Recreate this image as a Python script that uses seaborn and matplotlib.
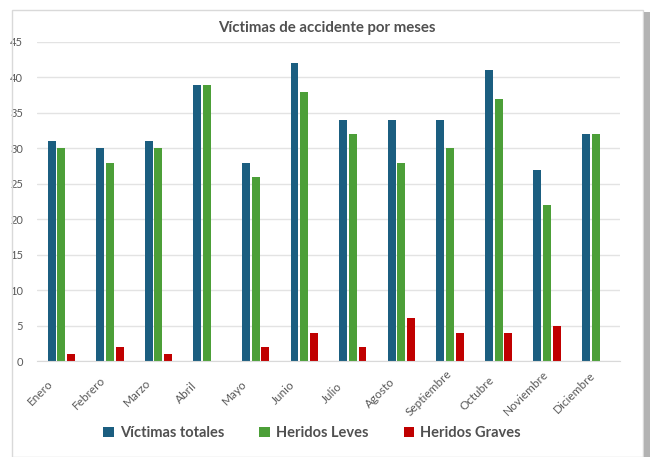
import pandas as pd
import matplotlib
matplotlib.use("Agg")
import matplotlib.pyplot as plt
import matplotlib.transforms as mtransforms
import seaborn as sns
from matplotlib.patches import Rectangle

meses = ["Enero", "Febrero", "Marzo", "Abril", "Mayo", "Junio", "Julio",
         "Agosto", "Septiembre", "Octubre", "Noviembre", "Diciembre"]
victimas_totales = [31, 30, 31, 39, 28, 42, 34, 34, 34, 41, 27, 32]
heridos_leves = [30, 28, 30, 39, 26, 38, 32, 28, 30, 37, 22, 32]
heridos_graves = [1, 2, 1, 0, 2, 4, 2, 6, 4, 4, 5, 0]
series = ["Víctimas totales", "Heridos Leves", "Heridos Graves"]
colores = ["#1b5e80", "#4c9f38", "#c00000"]

def main():
    df = pd.DataFrame({
        "mes": meses * 3,
        "serie": [series[0]] * 12 + [series[1]] * 12 + [series[2]] * 12,
        "valor": victimas_totales + heridos_leves + heridos_graves,
    })

    sns.set_style("white")
    plt.rcParams["font.family"] = ["Lato", "DejaVu Sans"]

    fig = plt.figure(figsize=(6.51, 4.57), dpi=100)
    W, H = 651, 457
    ax = fig.add_axes([37 / W, 1 - 361 / H, (620 - 37) / W, (361 - 42) / H])

    sns.barplot(data=df, x="mes", y="valor", hue="serie", palette=colores,
                width=0.6, gap=0.18, ax=ax, legend=True, saturation=1,
                linewidth=0)

    ax.set_ylim(0, 45)
    ax.set_xlim(-0.5, 11.5)
    ax.set_yticks(range(0, 46, 5))
    ax.grid(axis="y", color="#e3e3e3", linewidth=1)
    ax.set_axisbelow(True)
    for s in ["top", "right", "left"]:
        ax.spines[s].set_visible(False)
    ax.spines["bottom"].set_color("#d9d9d9")
    ax.set_xlabel("")
    ax.set_ylabel("")
    ax.tick_params(axis="y", length=0, labelsize=8, labelcolor="#595959", pad=10)
    ax.tick_params(axis="x", length=0, labelsize=8.5, labelcolor="#595959", pad=0)
    # etiquetas centradas a la izquierda del centro de cada mes, como en Excel
    desplaz = mtransforms.ScaledTranslation(-0.21, -0.32, fig.dpi_scale_trans)
    for lbl in ax.get_xticklabels():
        lbl.set_rotation(45)
        lbl.set_ha("center")
        lbl.set_va("center")
        lbl.set_rotation_mode("anchor")
        lbl.set_transform(lbl.get_transform() + desplaz)

    ax.legend(loc="center", bbox_to_anchor=(312 / W, 1 - 433 / H),
              bbox_transform=fig.transFigure, ncol=3, frameon=False,
              handlelength=0.75, handleheight=0.75, handletextpad=0.4,
              columnspacing=2.4, prop={"size": 10.5, "weight": "bold"},
              labelcolor="#505050")

    fig.text(327 / W, 1 - 28 / H, "Víctimas de accidente por meses",
             ha="center", va="center", fontsize=10.8, fontweight="bold",
             color="#505050")

    # marco del gráfico y sombra derecha
    fig.patches.append(Rectangle((12 / W, 0), (643 - 12) / W, 1 - 10 / H,
                                 transform=fig.transFigure, fill=False,
                                 edgecolor="#d9d9d9", linewidth=1))
    fig.patches.append(Rectangle((644 / W, 0), 6 / W, 1 - 12 / H,
                                 transform=fig.transFigure, facecolor="#b3b3b3",
                                 edgecolor="none"))

    fig.savefig("out.png", dpi=100)
    plt.close(fig)

if __name__ == "__main__":
    main()
